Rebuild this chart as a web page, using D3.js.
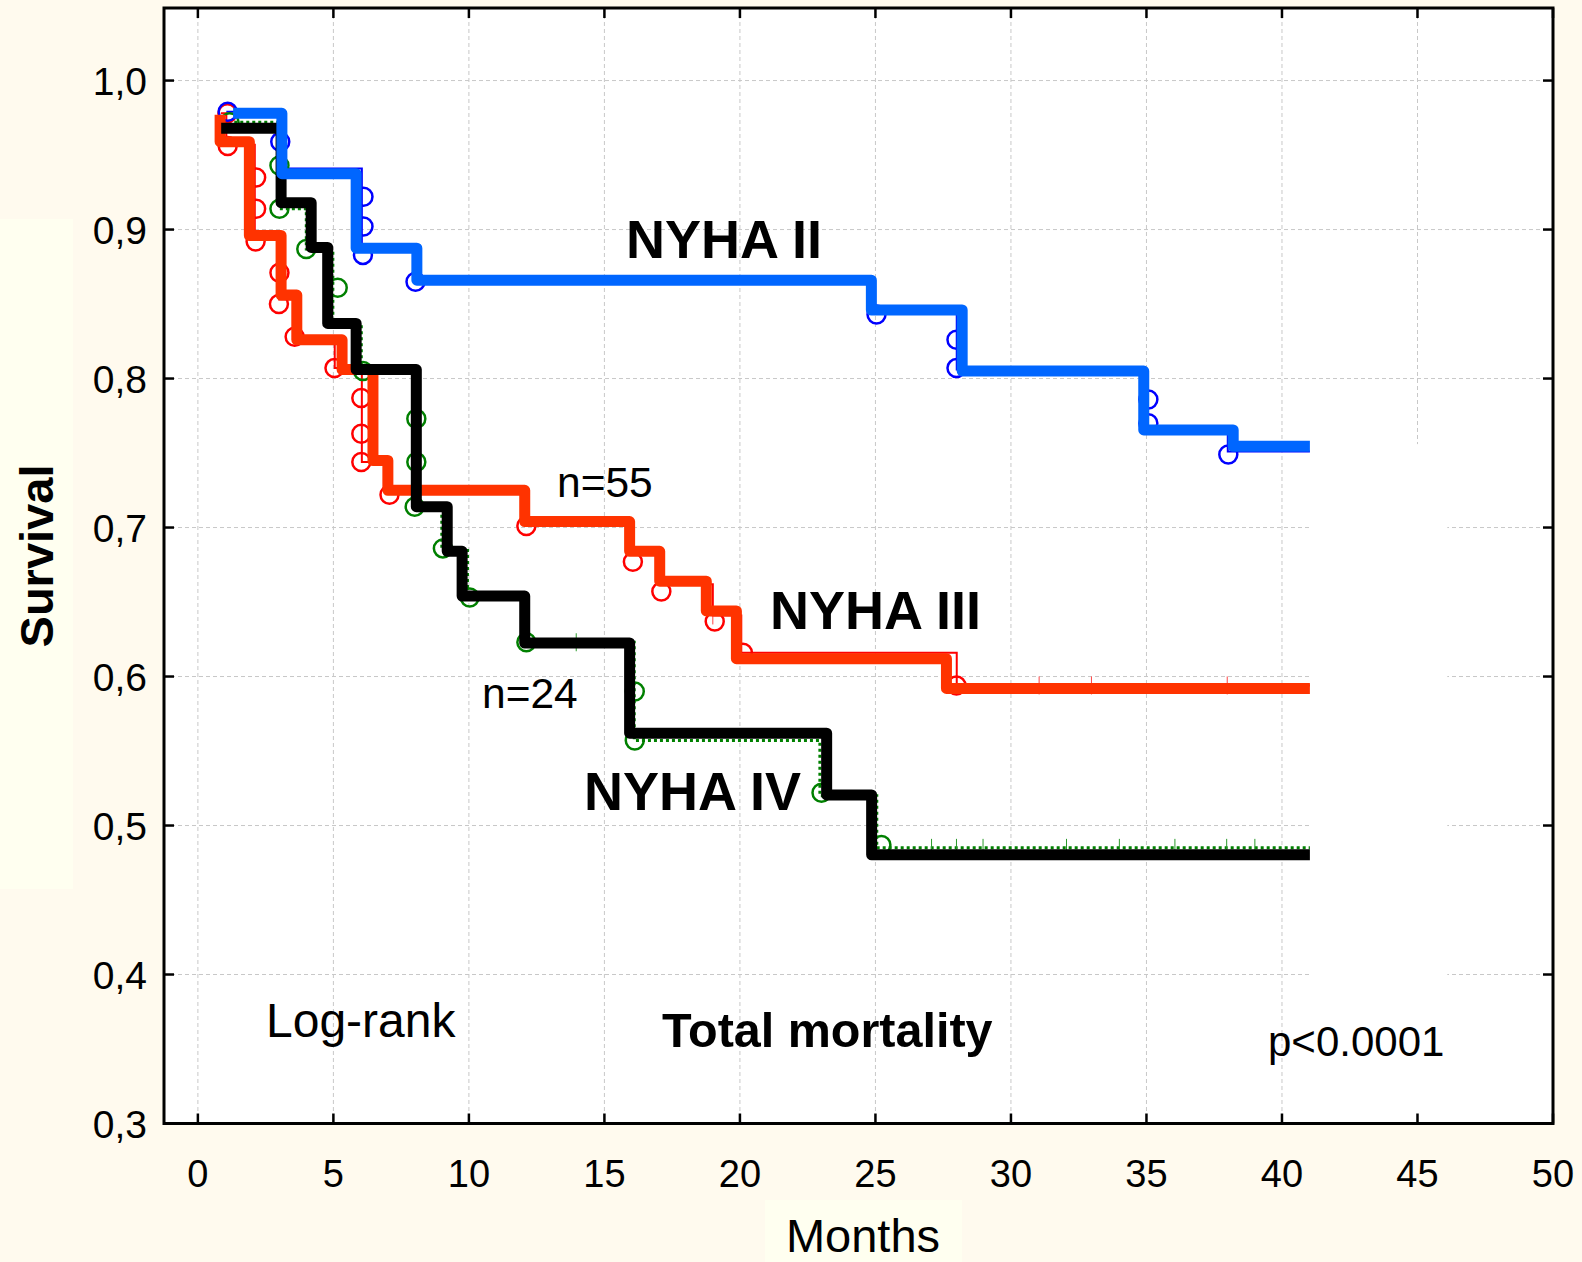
<!DOCTYPE html>
<html>
<head>
<meta charset="utf-8">
<script src="https://cdn.jsdelivr.net/npm/d3@7"></script>
<style>
  body { margin: 0; background: #fffaee; }
  text { font-family: "Liberation Sans", Arial, sans-serif; fill: #000; }
</style>
</head>
<body>
<script>
// axis ticks
const xTicks = [0, 5, 10, 15, 20, 25, 30, 35, 40, 45, 50];
const yTicks = [0.3, 0.4, 0.5, 0.6, 0.7, 0.8, 0.9, 1.0];
const yTickLabels = ["0,3", "0,4", "0,5", "0,6", "0,7", "0,8", "0,9", "1,0"];

// thick (redrawn) curves : time of step, survival after step
const nyha2Times = [1.3, 3.1, 5.84, 8.08, 24.85, 28.2, 34.9, 38.2, 41.03];
const nyha2Surv = [0.978, 0.9375, 0.8875, 0.866, 0.846, 0.805, 0.7655, 0.7545, 0.7545];
const nyha3Times = [0.82, 0.82, 1.9, 3.07, 3.65, 5.32, 6.46, 7.01, 12.06, 15.93, 17.04, 18.76, 19.87, 27.62, 41.03];
const nyha3Surv = [0.977, 0.959, 0.896, 0.856, 0.826, 0.806, 0.745, 0.725, 0.704, 0.684, 0.664, 0.644, 0.612, 0.592, 0.592];
const nyha4Times = [0.86, 3.07, 4.18, 4.79, 5.84, 8.06, 9.2, 9.75, 12.06, 15.93, 23.2, 24.86, 41.03];
const nyha4Surv = [0.968, 0.918, 0.888, 0.837, 0.806, 0.714, 0.684, 0.654, 0.6225, 0.562, 0.5205, 0.4803, 0.4803];

// original thin curves underneath
const thin2Times = [1.05, 3.05, 6.05, 8.05, 24.95, 28.0, 35.0, 38.0, 41.03];
const thin2Surv = [0.979, 0.941, 0.889, 0.867, 0.847, 0.806, 0.767, 0.751, 0.751];
const thin3Times = [0.85, 1.05, 2.1, 3.0, 3.6, 5.05, 6.05, 7.05, 12.1, 16.0, 17.1, 19.0, 20.05, 28.0, 41.03];
const thin3Surv = [0.978, 0.957, 0.895, 0.853, 0.826, 0.807, 0.744, 0.724, 0.703, 0.682, 0.662, 0.641, 0.616, 0.594, 0.594];
const thin4Times = [0.9, 3.0, 4.0, 4.98, 6.03, 8.0, 9.0, 9.95, 12.1, 16.1, 22.95, 25.05, 41.03];
const thin4Surv = [0.972, 0.914, 0.887, 0.837, 0.805, 0.714, 0.686, 0.653, 0.623, 0.557, 0.52, 0.485, 0.485];

// censored observations (circles)
const cens2T = [1.1, 3.04, 6.11, 6.11, 6.09, 8.03, 25.04, 27.99, 27.99, 35.07, 35.07, 38.02];
const cens2S = [0.979, 0.959, 0.922, 0.902, 0.883, 0.865, 0.843, 0.826, 0.807, 0.786, 0.770, 0.749];
const cens3T = [1.09, 1.1, 2.15, 2.15, 2.13, 3.01, 2.99, 3.57, 5.04, 6.03, 6.03, 6.03, 7.07, 12.12, 16.05, 17.1, 19.07, 20.11, 27.99];
const cens3S = [0.978, 0.956, 0.935, 0.914, 0.892, 0.871, 0.850, 0.828, 0.807, 0.787, 0.763, 0.744, 0.722, 0.701, 0.677, 0.657, 0.637, 0.616, 0.594];
const cens4T = [1.17, 3.01, 3.01, 4.0, 5.16, 6.09, 8.06, 8.06, 8.0, 9.04, 10.03, 12.12, 16.12, 16.12, 23.01, 25.22];
const cens4S = [0.972, 0.943, 0.914, 0.887, 0.861, 0.805, 0.773, 0.744, 0.714, 0.686, 0.653, 0.623, 0.590, 0.557, 0.522, 0.487];

// small censor ticks on the thin curves
const tick3T = [19.0, 31.04, 32.97, 37.98];
const tick4T = [13.96, 27.07, 27.99, 28.97, 32.05, 34.0, 36.05, 37.96, 39.0];

const W = 1582, H = 1262;
const x = d3.scaleLinear().domain([-1.25, 50]).range([164, 1553]);
const y = d3.scaleLinear().domain([0.3, 1.0487]).range([1123.5, 8]);

const svg = d3.select("body").append("svg")
  .attr("width", W).attr("height", H);

svg.append("rect").attr("width", W).attr("height", H).attr("fill", "#fffaee");
// lighter boxes behind the axis titles
svg.append("rect").attr("x", 0).attr("y", 219).attr("width", 73).attr("height", 670).attr("fill", "#fffff0");
svg.append("rect").attr("x", 765).attr("y", 1200).attr("width", 197).attr("height", 62).attr("fill", "#fffff0");

const x0 = x(-1.25), x1 = x(50), yTop = y(1.0487), yBot = y(0.3);
svg.append("rect").attr("x", x0).attr("y", yTop)
  .attr("width", x1 - x0).attr("height", yBot - yTop).attr("fill", "#fff");

// grid
const grid = svg.append("g").attr("stroke", "#c8c8c8").attr("stroke-width", 1)
  .attr("stroke-dasharray", "4,3");
grid.selectAll(".gx").data(xTicks.filter(d => d < 50)).enter().append("line")
  .attr("x1", d => x(d)).attr("x2", d => x(d)).attr("y1", yTop).attr("y2", yBot);
grid.selectAll(".gy").data(yTicks.filter(d => d > 0.3)).enter().append("line")
  .attr("x1", x0).attr("x2", x1).attr("y1", d => y(d)).attr("y2", d => y(d));

// white patch pasted over the grid on the right
svg.append("rect").attr("x", x(41.05)).attr("y", y(0.756))
  .attr("width", x(46.1) - x(41.05)).attr("height", y(0.308) - y(0.756)).attr("fill", "#fff");

const step = d3.line().x(d => x(d[0])).y(d => y(d[1])).curve(d3.curveStepAfter);
const pts = (t, s) => t.map((d, i) => [d, s[i]]);

function levelAt(t, s, time) {
  let v = s[0];
  t.forEach((d, i) => { if (d <= time) v = s[i]; });
  return v;
}

// thin original curves
svg.append("path").attr("d", step(pts(thin2Times, thin2Surv)))
  .attr("fill", "none").attr("stroke", "#0000ff").attr("stroke-width", 2);
svg.append("path").attr("d", step(pts(thin3Times, thin3Surv)))
  .attr("fill", "none").attr("stroke", "#ff0000").attr("stroke-width", 2);
svg.append("path").attr("d", step(pts(thin4Times, thin4Surv)))
  .attr("fill", "none").attr("stroke", "#008000").attr("stroke-width", 3)
  .attr("stroke-dasharray", "3,3");

svg.selectAll(".t3").data(tick3T).enter().append("line")
  .attr("x1", d => x(d)).attr("x2", d => x(d))
  .attr("y1", d => y(levelAt(thin3Times, thin3Surv, d)) - 9)
  .attr("y2", d => y(levelAt(thin3Times, thin3Surv, d)) + 9)
  .attr("stroke", "#ff4444").attr("stroke-width", 1);
svg.selectAll(".t4").data(tick4T).enter().append("line")
  .attr("x1", d => x(d)).attr("x2", d => x(d))
  .attr("y1", d => y(levelAt(thin4Times, thin4Surv, d)) - 9)
  .attr("y2", d => y(levelAt(thin4Times, thin4Surv, d)) + 9)
  .attr("stroke", "#2a9a2a").attr("stroke-width", 1);

// censor circles
function circles(t, s, color) {
  svg.append("g").selectAll("circle").data(pts(t, s)).enter().append("circle")
    .attr("cx", d => x(d[0])).attr("cy", d => y(d[1])).attr("r", 9)
    .attr("fill", "none").attr("stroke", color).attr("stroke-width", 2.5);
}
circles(cens3T, cens3S, "#ff0000");
circles(cens4T, cens4S, "#008000");
circles(cens2T, cens2S, "#0000ff");

// thick curves
function thick(t, s, color) {
  svg.append("path").attr("d", step(pts(t, s)))
    .attr("fill", "none").attr("stroke", color).attr("stroke-width", 11)
    .attr("stroke-linejoin", "round");
}
thick(nyha3Times, nyha3Surv, "#ff3300");
thick(nyha4Times, nyha4Surv, "#000000");
thick(nyha2Times, nyha2Surv, "#0066ff");

// frame and ticks
svg.append("rect").attr("x", x0).attr("y", yTop)
  .attr("width", x1 - x0).attr("height", yBot - yTop)
  .attr("fill", "none").attr("stroke", "#000").attr("stroke-width", 3);
const tk = svg.append("g").attr("stroke", "#000").attr("stroke-width", 2.5);
xTicks.forEach(d => {
  tk.append("line").attr("x1", x(d)).attr("x2", x(d)).attr("y1", yBot).attr("y2", yBot - 10);
  tk.append("line").attr("x1", x(d)).attr("x2", x(d)).attr("y1", yTop).attr("y2", yTop + 10);
});
yTicks.forEach(d => {
  tk.append("line").attr("x1", x0).attr("x2", x0 + 10).attr("y1", y(d)).attr("y2", y(d));
  tk.append("line").attr("x1", x1).attr("x2", x1 - 10).attr("y1", y(d)).attr("y2", y(d));
});

svg.append("g").selectAll("text").data(xTicks).enter().append("text")
  .attr("x", d => x(d)).attr("y", 1187).attr("text-anchor", "middle")
  .attr("font-size", 38).text(d => d);
svg.append("g").selectAll("text").data(yTicks).enter().append("text")
  .attr("x", 147).attr("y", d => y(d) + 14).attr("text-anchor", "end")
  .attr("font-size", 39).text((d, i) => yTickLabels[i]);

// titles
svg.append("text").attr("transform", "translate(53,556) rotate(-90)")
  .attr("text-anchor", "middle").attr("font-size", 47).attr("font-weight", "bold")
  .text("Survival");
svg.append("text").attr("x", 863).attr("y", 1252).attr("text-anchor", "middle")
  .attr("font-size", 47).text("Months");

// annotations
const notes = [
  { t: "NYHA II", x: 626, y: 258, s: 54, b: true },
  { t: "NYHA III", x: 770, y: 629, s: 54, b: true },
  { t: "NYHA IV", x: 584, y: 810, s: 54, b: true },
  { t: "n=55", x: 557, y: 497, s: 42.5, b: false },
  { t: "n=24", x: 482, y: 708, s: 42.5, b: false },
  { t: "Log-rank", x: 266, y: 1037, s: 48, b: false },
  { t: "Total mortality", x: 662, y: 1047, s: 48.5, b: true },
  { t: "p<0.0001", x: 1268, y: 1056, s: 42, b: false }
];
svg.append("g").selectAll("text").data(notes).enter().append("text")
  .attr("x", d => d.x).attr("y", d => d.y).attr("font-size", d => d.s)
  .attr("font-weight", d => d.b ? "bold" : "normal").text(d => d.t);
</script>
</body>
</html>
